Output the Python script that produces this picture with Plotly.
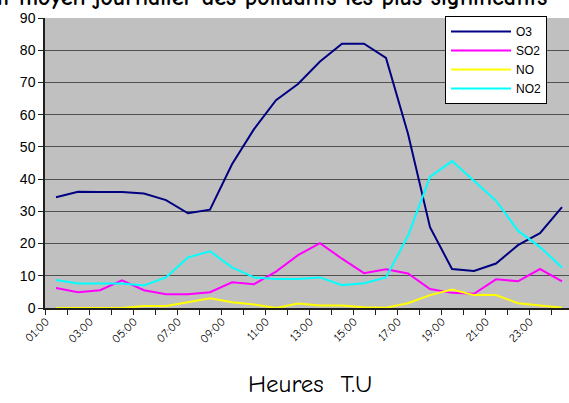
import plotly.graph_objects as go

hours = list(range(24))
hour_labels = ["01:00", "02:00", "03:00", "04:00", "05:00", "06:00", "07:00", "08:00",
               "09:00", "10:00", "11:00", "12:00", "13:00", "14:00", "15:00", "16:00",
               "17:00", "18:00", "19:00", "20:00", "21:00", "22:00", "23:00", "24:00"]

o3 = [34.4, 36.1, 36.0, 36.0, 35.5, 33.5, 29.4, 30.5, 44.6, 55.5, 64.5, 69.5,
      76.5, 82.0, 82.0, 77.6, 54.1, 25.1, 12.1, 11.5, 13.8, 19.5, 23.2, 31.3]
so2 = [6.2, 4.9, 5.5, 8.6, 5.5, 4.3, 4.3, 4.9, 8.0, 7.4, 11.3, 16.4,
       20.1, 15.3, 10.8, 12.0, 10.7, 5.9, 4.7, 4.4, 8.9, 8.3, 12.1, 8.3]
no = [0.0, 0.0, 0.0, 0.0, 0.6, 0.6, 1.8, 3.0, 1.8, 1.1, 0.0, 1.4,
      0.8, 0.8, 0.2, 0.1, 1.5, 4.0, 5.7, 4.0, 4.0, 1.5, 0.8, 0.1]
no2 = [8.7, 7.6, 7.6, 7.6, 7.0, 9.5, 15.7, 17.6, 12.6, 9.5, 9.0, 9.0,
       9.5, 7.1, 7.7, 9.5, 22.4, 40.7, 45.6, 39.6, 33.3, 24.0, 18.9, 12.6]

series = [("O3", o3, "#000080"), ("SO2", so2, "#FF00FF"),
          ("NO", no, "#FFFF00"), ("NO2", no2, "#00FFFF")]

W, H = 569, 403
ML, MR, MT, MB = 45, 0, 18, 95
PW = W - ML - MR
PH = H - MT - MB

fig = go.Figure()
for name, vals, col in series:
    fig.add_trace(go.Scatter(x=hours, y=vals, mode="lines", name=name,
                             line=dict(color=col, width=2)))

comic = "Comic Sans MS, Comic Neue, DejaVu Sans"

fig.update_layout(
    width=W, height=H,
    margin=dict(l=ML, r=MR, t=MT, b=MB, autoexpand=False),
    paper_bgcolor="white",
    plot_bgcolor="#C0C0C0",
    showlegend=True,
    legend=dict(x=(445 - ML) / PW, y=1 + 2 / PH, xanchor="left", yanchor="top",
                bgcolor="white", bordercolor="black", borderwidth=1,
                font=dict(family="Arial, Liberation Sans", size=12, color="black"),
                itemwidth=60, tracegroupgap=0, entrywidth=160, entrywidthmode="pixels"),
    xaxis=dict(range=[-0.5, 23.5 - 4 / 22], tickmode="array",
               tickvals=hours[::2], ticktext=hour_labels[::2],
               tickangle=-45, ticks="", showgrid=False, zeroline=False,
               showline=True, linecolor="#202020", linewidth=1.5, automargin=False,
               ticklabelshift=-10,
               tickfont=dict(family=comic, size=12, color="black"),
               minor=dict(tick0=-0.5, dtick=1, ticks="outside", ticklen=5,
                          tickcolor="#202020", showgrid=False)),
    yaxis=dict(range=[0, 90], dtick=10, ticks="outside", ticklen=5,
               tickcolor="#202020", showgrid=True, gridcolor="#505050",
               gridwidth=1, zeroline=False, showline=True, automargin=False,
               linecolor="#202020", linewidth=1.5,
               tickfont=dict(family="Arial, Liberation Sans", size=14, color="black")),
    annotations=[
        dict(text="<b>Comportement moyen journalier des polluants les plus significatifs</b>",
             xref="paper", yref="paper", x=(203 - ML) / PW, y=1 + (MT + 3) / PH,
             xanchor="center", yanchor="middle", showarrow=False,
             font=dict(family=comic, size=24, color="black")),
        dict(text="Heures  T.U", xref="paper", yref="paper",
             x=(310 - ML) / PW, y=-(383 - MT - PH) / PH,
             xanchor="center", yanchor="middle", showarrow=False,
             font=dict(family=comic, size=25, color="black"))],
)

fig.write_html("out.html", config={"displayModeBar": False},
               post_script="document.body.style.margin='0';")
